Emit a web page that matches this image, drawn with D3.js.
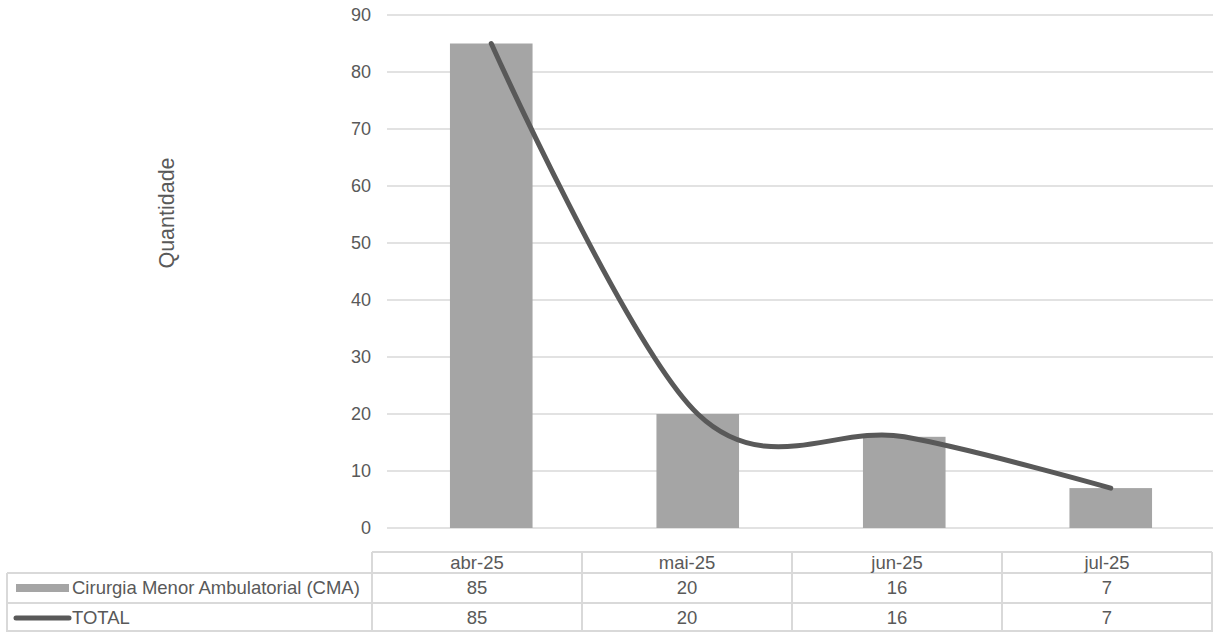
<!DOCTYPE html>
<html>
<head>
<meta charset="utf-8">
<script src="https://cdn.jsdelivr.net/npm/d3@7"></script>
<style>
  html, body { margin: 0; padding: 0; background: #fff; }
  svg { display: block; font-family: "Liberation Sans", Arial, sans-serif; }
</style>
</head>
<body>
<svg id="chart" width="1213" height="632"></svg>
<script>
const categories = ["abr-25", "mai-25", "jun-25", "jul-25"];
const cmaValues = [85, 20, 16, 7];
const totalValues = [85, 20, 16, 7];
const yTicks = [0, 10, 20, 30, 40, 50, 60, 70, 80, 90];
const seriesNames = ["Cirurgia Menor Ambulatorial (CMA)", "TOTAL"];
const yTitle = "Quantidade";

const svg = d3.select("#chart");
const textColor = "#595959";
const gridColor = "#d9d9d9";
const barColor = "#a5a5a5";
const lineColor = "#595959";
const fs = 18.5;

const x = d3.scaleBand().domain(categories).range([388, 1214]).paddingInner(0.6).paddingOuter(0.3);
const y = d3.scaleLinear().domain([0, 90]).range([528, 15]);

// gridlines
svg.append("g").selectAll("line").data(yTicks).join("line")
  .attr("x1", 387).attr("x2", 1213)
  .attr("y1", d => y(d)).attr("y2", d => y(d))
  .attr("stroke", gridColor).attr("stroke-width", 1.5);

// y axis labels
const yAxis = d3.axisLeft(y).tickValues(yTicks).tickSize(0).tickPadding(0);
const ya = svg.append("g").attr("transform", "translate(371,0)").call(yAxis);
ya.select(".domain").remove();
ya.selectAll("text").attr("font-size", 18).attr("fill", textColor)
  .attr("font-family", "Liberation Sans, Arial, sans-serif");

// y title
svg.append("text").attr("transform", "translate(174,213) rotate(-90)")
  .attr("text-anchor", "middle").attr("font-size", 21.5).attr("fill", textColor)
  .text(yTitle);

// bars
svg.append("g").selectAll("rect").data(categories).join("rect")
  .attr("x", d => x(d)).attr("width", x.bandwidth())
  .attr("y", (d, i) => y(cmaValues[i]))
  .attr("height", (d, i) => y(0) - y(cmaValues[i]))
  .attr("fill", barColor);

// smooth line
const line = d3.line()
  .x((d, i) => x(categories[i]) + x.bandwidth() / 2)
  .y(d => y(d))
  .curve(d3.curveCardinal.tension(0));
svg.append("path").datum(totalValues).attr("d", line)
  .attr("fill", "none").attr("stroke", lineColor).attr("stroke-width", 5)
  .attr("stroke-linecap", "round").attr("stroke-linejoin", "round");

// data table
const tx = d3.scaleBand().domain(categories).range([372, 1212]);
const tb = svg.append("g");
const rowY = [552, 573, 603, 632];
const bc = gridColor, bw = 2;
tb.append("line").attr("x1", 372).attr("x2", 1212).attr("y1", rowY[0]).attr("y2", rowY[0]).attr("stroke", bc).attr("stroke-width", bw);
[rowY[1], rowY[2]].forEach(yy => {
  tb.append("line").attr("x1", 7).attr("x2", 1212).attr("y1", yy).attr("y2", yy).attr("stroke", bc).attr("stroke-width", bw);
});
tb.append("line").attr("x1", 7).attr("x2", 1212).attr("y1", 631).attr("y2", 631).attr("stroke", bc).attr("stroke-width", bw);
tb.append("line").attr("x1", 7).attr("x2", 7).attr("y1", rowY[1]).attr("y2", 632).attr("stroke", bc).attr("stroke-width", bw);
categories.forEach(c => {
  tb.append("line").attr("x1", tx(c)).attr("x2", tx(c)).attr("y1", rowY[0]).attr("y2", 632).attr("stroke", bc).attr("stroke-width", bw);
});
tb.append("line").attr("x1", 1212).attr("x2", 1212).attr("y1", rowY[0]).attr("y2", 632).attr("stroke", bc).attr("stroke-width", bw);

tb.selectAll("text.h").data(categories).join("text").attr("class", "h")
  .attr("x", d => tx(d) + tx.bandwidth() / 2).attr("y", 563).attr("dy", "0.35em")
  .attr("text-anchor", "middle").attr("font-size", fs).attr("fill", textColor).text(d => d);
const rows = [cmaValues, totalValues];
const rowCenters = [588, 618];
rows.forEach((vals, r) => {
  tb.selectAll("text.r" + r).data(vals).join("text").attr("class", "r" + r)
    .attr("x", (d, i) => tx(categories[i]) + tx.bandwidth() / 2)
    .attr("y", rowCenters[r]).attr("dy", "0.35em")
    .attr("text-anchor", "middle").attr("font-size", fs).attr("fill", textColor).text(d => d);
});
tb.append("rect").attr("x", 16).attr("y", 584).attr("width", 53).attr("height", 8).attr("fill", barColor);
tb.append("line").attr("x1", 16).attr("x2", 69).attr("y1", 618).attr("y2", 618)
  .attr("stroke", lineColor).attr("stroke-width", 5).attr("stroke-linecap", "round");
tb.selectAll("text.lg").data(seriesNames).join("text").attr("class", "lg")
  .attr("x", 72).attr("y", (d, i) => rowCenters[i]).attr("dy", "0.35em")
  .attr("font-size", fs).attr("fill", textColor).text(d => d);
</script>
</body>
</html>
